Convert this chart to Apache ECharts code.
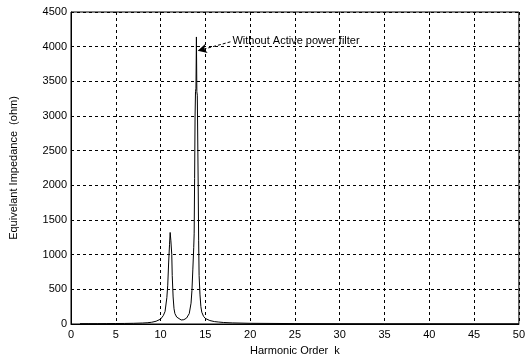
<!DOCTYPE html>
<html>
<head>
<meta charset="utf-8">
<script src="https://cdn.jsdelivr.net/npm/echarts@6/dist/echarts.min.js"></script>
<style>html,body{margin:0;padding:0;background:#fff;}#c{width:528px;height:361px;}</style>
</head>
<body>
<div id="c"></div>
<script>
var harmonicOrder = [1,2,3,4,5,6,7,8,8.5,9,9.5,10,10.3,10.5,10.7,10.8,10.9,11.0,11.07,11.15,11.25,11.3,11.4,11.5,11.6,11.8,12.0,12.3,12.6,12.9,13.2,13.4,13.5,13.6,13.7,13.75,13.8,13.85,13.9,13.95,14.0,14.05,14.1,14.2,14.25,14.3,14.4,14.5,14.6,14.8,15.0,15.5,16,16.5,17,18,20,25,30,35,40,45,50];
var impedance = [5,5,5,6,7,8,10,14,18,25,40,70,120,180,380,560,880,1150,1320,1200,1000,700,390,220,150,100,72,58,62,85,150,300,480,780,1100,1300,2100,3000,3350,3400,4140,3350,3300,2000,1200,700,420,250,170,110,80,50,35,28,22,16,10,6,4,3,3,2,2];
var xTicks = [0,5,10,15,20,25,30,35,40,45,50];
var yTicks = [0,500,1000,1500,2000,2500,3000,3500,4000,4500];
var annotationText = 'Without Active power filter';
var arrowFrom = [17.8, 4070];
var arrowTo = [14.15, 3940];

var pts = harmonicOrder.map(function(k,i){return [k, impedance[i]];});
var font = 'Arial, "Liberation Sans", sans-serif';
var chart = echarts.init(document.getElementById('c'), null, {renderer:'canvas'});
chart.setOption({
  backgroundColor:'#fff',
  animation:false,
  grid:{left:67,right:4,top:12,bottom:37,show:true,borderColor:'#000',borderWidth:1,backgroundColor:'transparent'},
  xAxis:{type:'value',min:xTicks[0],max:xTicks[xTicks.length-1],interval:5,
    name:'Harmonic Order  k',nameLocation:'middle',nameGap:21,
    nameTextStyle:{color:'#000',fontSize:11,fontFamily:font},
    axisLine:{show:true,lineStyle:{color:'#000',width:1}},
    axisTick:{show:false},
    axisLabel:{color:'#000',fontSize:11,fontFamily:font,margin:5,formatter:function(v){return String(v);}},
    splitLine:{show:true,lineStyle:{color:'#000',type:[3,3],width:1}}},
  yAxis:{type:'value',min:yTicks[0],max:yTicks[yTicks.length-1],interval:500,
    name:'Equivelant Impedance  (ohm)',nameLocation:'middle',nameGap:52,
    nameTextStyle:{color:'#000',fontSize:11,fontFamily:font},
    axisLine:{show:true,lineStyle:{color:'#000',width:1}},
    axisTick:{show:false},
    axisLabel:{color:'#000',fontSize:11,fontFamily:font,margin:4,formatter:function(v){return String(v);}},
    splitLine:{show:true,lineStyle:{color:'#000',type:[3,3],width:1}}},
  series:[{type:'line',data:pts,showSymbol:false,symbol:'none',
    lineStyle:{color:'#000',width:1},
    markLine:{silent:true,symbol:['none','arrow'],symbolSize:[7,9],
      lineStyle:{color:'#000',type:[3,2],width:1},label:{show:false},
      data:[[{coord:arrowFrom},{coord:arrowTo}]]}
  }]
});
var p = chart.convertToPixel({gridIndex:0}, arrowFrom);
chart.setOption({graphic:[{type:'text',left:p[0]+2,top:p[1]-6,
  style:{text:annotationText,fill:'#000',font:'11px '+font}}]});
</script>
</body>
</html>
